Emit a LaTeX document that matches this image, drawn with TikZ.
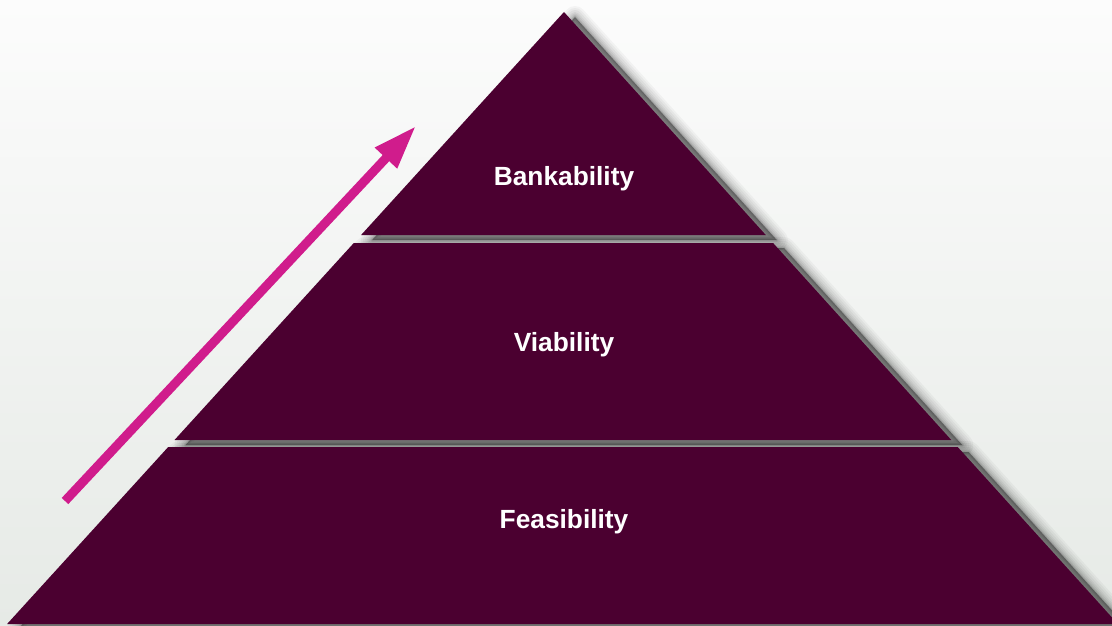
\documentclass[tikz,border=0pt]{standalone}
\usepackage{fontspec}
\setmainfont{Liberation Sans}
\usetikzlibrary{arrows.meta}
\definecolor{plum}{RGB}{75,0,48}
\definecolor{arrowpink}{RGB}{208,28,140}
\definecolor{bgtop}{RGB}{252,252,252}
\definecolor{bgmid}{RGB}{239,241,239}
\definecolor{bgbot}{RGB}{230,234,230}
\tikzset{
  tier/.style={fill=plum},
  tierlabel/.style={text=white, anchor=base, inner sep=0pt,
    font=\bfseries\fontsize{26.3}{31}\selectfont},
  risearrow/.style={draw=arrowpink, line width=9pt,
    -{Triangle[length=44pt, width=28pt]}},
}
\newcommand{\softshadow}[1]{%
  \begin{scope}[shift={(11,5)}]
    \foreach \w/\o in {22/0.035, 18/0.04, 14/0.045, 10/0.05, 7/0.06, 4/0.07, 2/0.08} {
      \draw[black, opacity=\o, line width=\w pt, line join=round] #1;
    }
    \fill[black, opacity=0.4] #1;
  \end{scope}%
}
\begin{document}
\begin{tikzpicture}[x=1pt, y=-1pt]
  \useasboundingbox (0,0) rectangle (1112,626);
  \shade[top color=bgtop, middle color=bgmid, bottom color=bgbot]
    (0,0) rectangle (1112,626);
  \begin{scope}
    \clip (0,0) rectangle (1112,626);
    % shadows
    \softshadow{(564,12) -- (765.8,235) -- (361.1,235) -- cycle}
    \softshadow{(353.8,243) -- (773.1,243) -- (951.3,440) -- (174.5,440) -- cycle}
    \softshadow{(168.2,447) -- (957.7,447) -- (1117.9,624) -- (7.1,624) -- cycle}
    % tiers
    \fill[tier] (564,12) -- (765.8,235) -- (361.1,235) -- cycle;
    \fill[tier] (353.8,243) -- (773.1,243) -- (951.3,440) -- (174.5,440) -- cycle;
    \fill[tier] (168.2,447) -- (957.7,447) -- (1117.9,624) -- (7.1,624) -- cycle;
  \end{scope}
  \node[tierlabel] (bank) at (564,185) {Bankability};
  \node[tierlabel] (viab) at (564,351) {Viability};
  \node[tierlabel] (feas) at (564,528) {Feasibility};
  \coordinate (arrowstart) at (65,501);
  \coordinate (arrowtip) at (416,126);
  \draw[risearrow] (arrowstart) -- (arrowtip);
\end{tikzpicture}
\end{document}
